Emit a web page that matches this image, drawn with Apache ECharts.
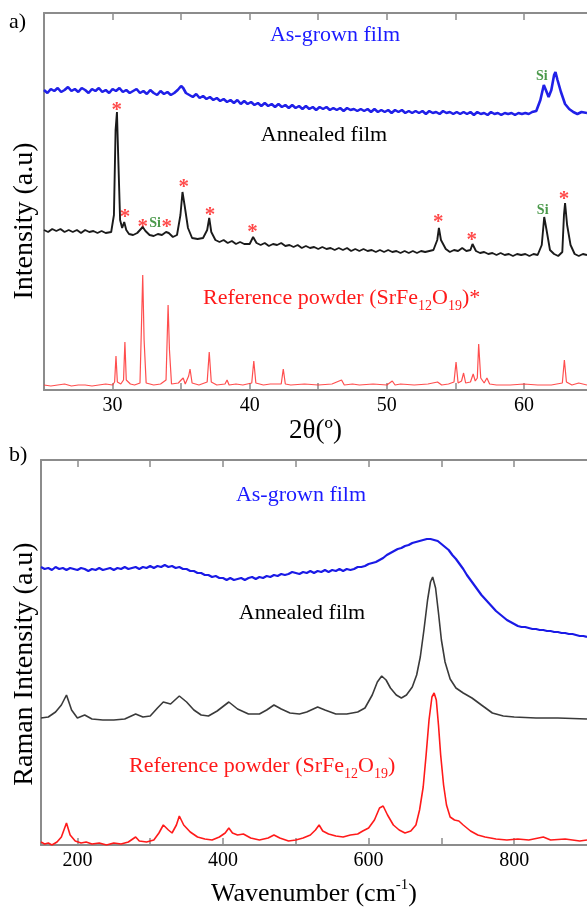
<!DOCTYPE html>
<html><head><meta charset="utf-8">
<script src="https://cdn.jsdelivr.net/npm/echarts@6/dist/echarts.min.js"></script>
<style>html,body{margin:0;padding:0;background:#fff}#c{width:587px;height:908px}</style>
</head><body><div id="c"></div><script>
// ---------- Panel a: XRD ----------
const xrdTicks = [30, 35, 40, 45, 50, 55, 60];
const xrdLabels = [30, 40, 50, 60];
const xrdAsGrown = [[25,300],[25.25,297],[25.5,301],[25.75,299],[26,302],[26.25,298],[26.5,300],[26.75,303],[27,299],[27.25,301],[27.5,298],[27.75,302],[28,300],[28.25,297],[28.5,301],[28.75,299],[29,302],[29.25,298],[29.5,300],[29.75,297],[30,301],[30.25,299],[30.5,302],[30.75,298],[31,300],[31.25,297],[31.5,299],[31.75,301],[32,297],[32.25,299],[32.5,296],[32.75,300],[33,297],[33.25,295],[33.5,299],[33.75,296],[34,298],[34.25,295],[34.5,297],[34.75,300],[35,304],[35.15,302],[35.35,297],[35.6,295],[35.85,293],[36.1,296],[36.35,292],[36.6,294],[36.85,291],[37.1,293],[37.35,290],[37.6,292],[37.85,289],[38.1,291],[38.35,288],[38.6,290],[38.85,287],[39.1,290],[39.35,286],[39.6,289],[39.85,286],[40.1,288],[40.35,285],[40.6,287],[40.85,284],[41.1,287],[41.35,284],[41.6,286],[41.85,283],[42.1,286],[42.35,283],[42.6,285],[42.85,282],[43.1,285],[43.35,282],[43.6,284],[43.85,281],[44.1,284],[44.35,281],[44.6,283],[44.85,280],[45.1,283],[45.35,281],[45.6,283],[45.85,280],[46.1,282],[46.35,280],[46.6,282],[46.85,279],[47.1,282],[47.35,280],[47.6,281],[47.85,279],[48.1,281],[48.35,279],[48.6,281],[48.85,278],[49.1,281],[49.35,278],[49.6,280],[49.85,278],[50.1,280],[50.35,277],[50.6,280],[50.85,278],[51.1,280],[51.35,277],[51.6,279],[51.85,277],[52.1,279],[52.35,277],[52.6,279],[52.85,276],[53.1,279],[53.35,277],[53.6,278],[53.85,276],[54.1,279],[54.35,277],[54.6,278],[54.85,276],[55.1,278],[55.35,276],[55.6,278],[55.85,276],[56.1,278],[56.35,275],[56.6,278],[56.85,276],[57.1,277],[57.35,275],[57.6,278],[57.85,276],[58.1,277],[58.35,275],[58.6,277],[58.85,276],[59.1,277],[59.35,275],[59.6,277],[59.85,276],[60.1,277],[60.35,276],[60.6,278],[60.9,279],[61.2,290],[61.45,305],[61.6,300],[61.8,293],[62,300],[62.2,315],[62.3,318],[62.45,310],[62.7,298],[63,286],[63.3,281],[63.6,278],[63.9,276],[64.2,278],[64.6,277]];
const xrdAnnealed = [[25,160],[25.3,158],[25.6,161],[25.9,159],[26.2,161],[26.5,158],[26.8,160],[27.1,158],[27.4,160],[27.7,157],[28,160],[28.3,158],[28.6,159],[28.9,157],[29.2,159],[29.5,157],[29.9,158],[30.1,175],[30.22,260],[30.32,278],[30.42,230],[30.55,170],[30.7,162],[30.85,168],[31,160],[31.2,156],[31.5,155],[31.8,157],[32,160],[32.2,163],[32.4,159],[32.7,155],[33,154],[33.3,156],[33.6,155],[33.9,158],[34.1,157],[34.4,153],[34.7,155],[34.95,175],[35.1,198],[35.25,185],[35.5,162],[35.8,152],[36.2,151],[36.6,152],[36.9,160],[37.05,172],[37.2,158],[37.5,150],[37.8,148],[38.1,150],[38.4,147],[38.7,149],[39,146],[39.3,148],[39.6,146],[40,146],[40.25,153],[40.5,147],[40.8,145],[41.1,147],[41.4,144],[41.7,146],[42,145],[42.3,147],[42.6,144],[42.9,145],[43.2,143],[43.5,145],[43.8,142],[44.1,144],[44.4,142],[44.7,143],[45,141],[45.3,143],[45.6,141],[45.9,142],[46.2,140],[46.5,142],[46.8,140],[47.1,142],[47.4,139],[47.7,141],[48,139],[48.3,141],[48.6,139],[48.9,140],[49.2,138],[49.5,140],[49.8,138],[50.1,140],[50.4,138],[50.7,139],[51,137],[51.3,139],[51.6,137],[51.9,139],[52.2,137],[52.5,139],[52.8,138],[53.1,139],[53.4,140],[53.68,150],[53.8,162],[53.95,150],[54.3,141],[54.6,138],[54.9,140],[55.2,139],[55.5,142],[55.8,139],[56.1,140],[56.25,146],[56.5,139],[56.8,137],[57.1,138],[57.4,136],[57.7,137],[58,135],[58.3,137],[58.6,135],[58.9,136],[59.2,134],[59.5,136],[59.8,135],[60.1,136],[60.4,134],[60.7,136],[61,135],[61.3,145],[61.48,173],[61.65,160],[61.9,140],[62.2,136],[62.5,134],[62.8,138],[62.92,175],[63,187],[63.15,165],[63.4,145],[63.7,136],[64,134],[64.3,136],[64.6,135]];
const xrdReference = [[25,5],[25.5,4],[26,5],[26.5,6],[27,4],[27.5,5],[28,5],[28.5,4],[29,5],[29.5,6],[30,5],[30.15,8],[30.25,34],[30.35,8],[30.6,6],[30.8,10],[30.9,48],[31,10],[31.3,6],[31.6,5],[32,7],[32.1,60],[32.2,115],[32.3,50],[32.45,7],[33,5],[33.5,6],[33.9,10],[34.05,85],[34.15,40],[34.3,6],[34.8,7],[35,10],[35.15,12],[35.3,6],[35.55,14],[35.65,21],[35.8,7],[36.3,5],[36.9,8],[37.05,38],[37.2,8],[37.6,5],[38.2,6],[38.35,10],[38.5,5],[39,6],[39.5,5],[40.15,7],[40.3,29],[40.45,7],[41,5],[41.5,6],[42.3,6],[42.45,21],[42.6,6],[43,5],[44,6],[45,5],[46,6],[46.7,10],[46.9,5],[47.5,6],[48,5],[49,6],[50,5],[50.4,9],[50.6,5],[51,6],[52,5],[53,6],[53.7,8],[54,5],[54.5,6],[54.9,8],[55.05,28],[55.2,7],[55.45,9],[55.6,17],[55.75,7],[56.1,8],[56.3,16],[56.45,9],[56.6,12],[56.7,46],[56.85,12],[57.1,7],[57.3,12],[57.5,6],[58,5],[59,5],[60,6],[61,5],[62,5],[62.8,7],[62.95,30],[63.1,8],[63.5,5],[64,7],[64.6,5]];
const xrdStars = [[30.3,284],[30.9,177],[32.2,167],[33.95,167],[35.2,207],[37.1,179],[40.2,162],[53.76,172],[56.2,154],[62.93,195]];
const xrdSi = [[33.1,167],[61.37,180],[61.3,314]];

// ---------- Panel b: Raman ----------
const ramanTicks = [200, 300, 400, 500, 600, 700, 800];
const ramanLabels = [200, 400, 600, 800];
const ramanAsGrown = [[150,278],[155,276],[160,277],[165,275],[170,278],[175,276],[180,277],[185,275],[190,277],[195,276],[200,275],[205,277],[210,276],[215,274],[220,276],[225,275],[230,277],[235,275],[240,276],[245,277],[250,275],[255,277],[260,276],[265,278],[270,276],[275,277],[280,278],[285,276],[290,278],[295,277],[300,279],[305,277],[310,279],[315,278],[320,280],[325,278],[330,279],[335,277],[340,278],[345,276],[350,276],[355,274],[360,274],[365,272],[370,272],[375,270],[380,270],[385,268],[390,269],[395,267],[400,267],[405,265],[410,267],[415,265],[420,266],[425,267],[430,265],[435,267],[440,268],[445,266],[450,268],[455,267],[460,269],[465,268],[470,270],[475,269],[480,271],[485,270],[490,271],[495,273],[500,272],[505,271],[510,273],[515,272],[520,274],[525,272],[530,274],[535,273],[540,275],[545,273],[550,275],[555,274],[560,276],[565,274],[570,276],[575,275],[580,276],[585,278],[590,278],[595,279],[600,281],[605,282],[610,283],[615,285],[620,287],[625,290],[630,292],[635,294],[640,296],[645,297],[650,299],[655,300],[660,302],[665,303],[670,304],[675,305],[680,306],[685,306],[690,305],[695,304],[700,301],[705,298],[710,295],[715,290],[720,286],[725,281],[730,276],[735,270],[740,265],[745,260],[750,255],[755,250],[760,246],[765,242],[770,238],[775,234],[780,231],[785,228],[790,225],[795,223],[800,221],[805,219],[810,218],[815,218],[820,217],[825,216],[830,216],[835,215],[840,215],[845,214],[850,214],[855,213],[860,213],[865,212],[870,212],[875,211],[880,211],[885,210],[890,209],[895,209],[900,208]];
const ramanAnnealed = [[150,127],[160,128],[170,133],[178,140],[185,150],[192,135],[200,127],[210,130],[220,126],[235,125],[250,125],[265,126],[280,131],[290,128],[300,129],[310,137],[318,143],[328,141],[340,149],[350,143],[360,135],[370,130],[380,129],[392,134],[408,143],[420,136],[435,131],[450,131],[460,135],[470,140],[480,136],[492,132],[505,131],[515,133],[530,138],[540,135],[555,131],[570,131],[585,133],[595,137],[605,150],[612,163],[618,169],[624,165],[630,157],[638,150],[645,147],[652,150],[660,158],[666,170],[671,188],[676,215],[681,245],[685,263],[688,268],[692,257],[696,232],[700,205],[705,183],[712,166],[720,157],[730,152],[742,147],[755,140],[770,132],[785,129],[800,128],[830,127],[860,127],[900,126]];
const ramanReference = [[150,3],[155,1],[160,2],[165,0],[172,3],[178,8],[185,22],[190,10],[197,4],[205,2],[212,3],[220,1],[230,2],[240,0],[250,2],[260,1],[270,3],[280,8],[285,4],[295,3],[305,5],[312,12],[318,20],[325,15],[330,12],[336,20],[340,29],[346,20],[355,13],[365,8],[375,6],[385,5],[395,8],[403,12],[408,17],[413,12],[420,10],[428,11],[438,7],[450,5],[462,7],[470,10],[478,7],[490,4],[500,5],[510,7],[520,10],[527,15],[532,20],[537,14],[545,11],[555,9],[565,8],[575,10],[585,11],[592,14],[600,17],[608,25],[615,37],[620,39],[626,30],[634,20],[642,15],[650,12],[658,14],[665,20],[670,35],[675,58],[679,90],[683,125],[687,148],[690,152],[693,145],[696,120],[699,90],[703,60],[707,40],[712,28],[718,25],[724,24],[730,20],[740,14],[750,10],[760,8],[775,6],[790,5],[805,6],[820,5],[840,8],[850,5],[870,6],[890,4],[900,5]];

const serif = '"Liberation Serif","Times New Roman",serif';
const grey = '#8c8c8c';
const chart = echarts.init(document.getElementById('c'), null, {renderer: 'canvas'});

function xAxisDef(grid, pos, min, max, ticks, labels, extra) {
  return Object.assign({
    type: 'value', gridIndex: grid, position: pos, min: min, max: max,
    axisLine: {show: true, onZero: false, lineStyle: {color: grey, width: 2}},
    axisTick: {show: true, inside: true, length: 7, customValues: ticks, lineStyle: {color: grey, width: 1.5}},
    axisLabel: pos === 'bottom' ? {show: true, customValues: labels, color: '#000', fontFamily: serif, fontSize: 20, margin: 6} : {show: false},
    splitLine: {show: false}
  }, extra || {});
}
function yAxisDef(grid, max) {
  return {type: 'value', gridIndex: grid, min: 0, max: max,
    axisLine: {show: true, lineStyle: {color: grey, width: 2}},
    axisTick: {show: false}, axisLabel: {show: false}, splitLine: {show: false}};
}
function line(name, x, y, data, color, width, opacity) {
  return {name: name, type: 'line', xAxisIndex: x, yAxisIndex: y, data: data, showSymbol: false,
    smooth: false, silent: true, lineStyle: {color: color, width: width, opacity: opacity || 1}};
}
function marks(data, text, color, size, weight, dy) {
  return {type: 'scatter', xAxisIndex: 0, yAxisIndex: 0, data: data, symbolSize: 0, silent: true,
    label: {show: true, formatter: text, position: 'inside', color: color, fontFamily: serif,
      fontSize: size, fontWeight: weight, offset: [0, dy]}};
}
const richSub = {
  m: {fontFamily: serif, fontSize: 22, lineHeight: 30, fill: '#ff1a1a'},
  s: {fontFamily: serif, fontSize: 14, lineHeight: 14, verticalAlign: 'bottom', fill: '#ff1a1a'}
};
function txt(x, y, text, color, size, align, extra) {
  return Object.assign({type: 'text', x: x, y: y, silent: true,
    style: {text: text, fill: color, font: size + 'px ' + serif, textAlign: align || 'center', textVerticalAlign: 'middle'}}, extra || {});
}

chart.setOption({
  animation: false,
  backgroundColor: '#fff',
  grid: [
    {left: 44, top: 13, right: 0, height: 377},
    {left: 41, top: 460, right: 0, height: 385}
  ],
  xAxis: [
    xAxisDef(0, 'bottom', 25, 64.6, xrdTicks, xrdLabels, {name: '2θ(º)', nameLocation: 'middle', nameGap: 27,
      nameTextStyle: {fontFamily: serif, fontSize: 27, color: '#000'}}),
    xAxisDef(0, 'top', 25, 64.6, xrdTicks, xrdLabels),
    xAxisDef(1, 'bottom', 150, 900, ramanTicks, ramanLabels, {name: '{m|Wavenumber (cm}{p|-1}{m|)}', nameLocation: 'middle', nameGap: 33,
      nameTextStyle: {fontFamily: serif, fontSize: 26, color: '#000', rich: {
        m: {fontFamily: serif, fontSize: 26, lineHeight: 32, color: '#000'},
        p: {fontFamily: serif, fontSize: 15, lineHeight: 15, verticalAlign: 'top', color: '#000'}}}}),
    xAxisDef(1, 'top', 150, 900, ramanTicks, ramanLabels)
  ],
  yAxis: [yAxisDef(0, 377), yAxisDef(1, 385)],
  series: [
    line('XRD as-grown', 0, 0, xrdAsGrown, '#2020e8', 2.6),
    line('XRD annealed', 0, 0, xrdAnnealed, '#1a1a1a', 1.9),
    line('XRD reference', 0, 0, xrdReference, '#ff3b3b', 1.2, 0.9),
    line('Raman as-grown', 2, 1, ramanAsGrown, '#1a1ae6', 2.2),
    line('Raman annealed', 2, 1, ramanAnnealed, '#3a3a3a', 1.6),
    line('Raman reference', 2, 1, ramanReference, '#ff1a1a', 1.6),
    marks(xrdStars, '*', '#ff1a1a', 21, 'bold', 5),
    marks(xrdSi, 'Si', '#1e7f1e', 14, 'bold', 0)
  ],
  graphic: [
    txt(9, 22, 'a)', '#000', 22, 'left'),
    txt(9, 455, 'b)', '#000', 22, 'left'),
    txt(335, 35, 'As-grown film', '#1a1aff', 22),
    txt(324, 135, 'Annealed film', '#000', 22),
    {type: 'text', x: 203, y: 298, silent: true, style: {text: '{m|Reference powder (SrFe}{s|12}{m|O}{s|19}{m|)*}', rich: richSub, textAlign: 'left', textVerticalAlign: 'middle'}},
    txt(301, 495, 'As-grown film', '#1a1aff', 22),
    txt(302, 613, 'Annealed film', '#000', 22),
    {type: 'text', x: 129, y: 766, silent: true, style: {text: '{m|Reference powder (SrFe}{s|12}{m|O}{s|19}{m|)}', rich: richSub, textAlign: 'left', textVerticalAlign: 'middle'}},
    txt(25, 221, 'Intensity (a.u)', '#000', 28, 'center', {rotation: Math.PI / 2}),
    txt(25, 664, 'Raman Intensity (a.u)', '#000', 28, 'center', {rotation: Math.PI / 2})
  ]
});
</script></body></html>
